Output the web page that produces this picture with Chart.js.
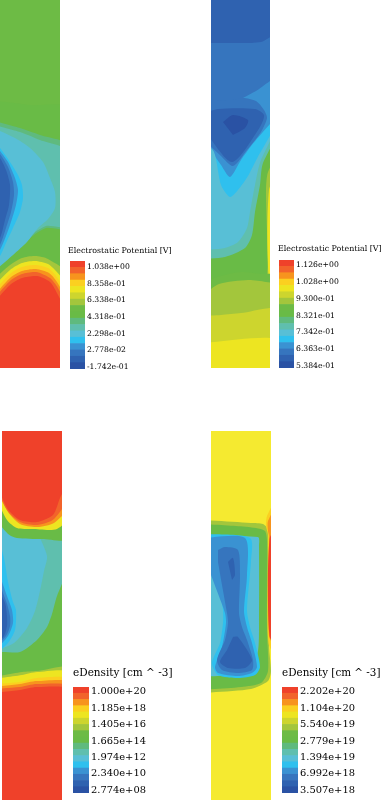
<!DOCTYPE html>
<html>
<head>
<meta charset="utf-8">
<title>Device contours</title>
<script src="https://cdn.jsdelivr.net/npm/chart.js@4/dist/chart.umd.min.js"></script>
<style>
  html, body { margin: 0; padding: 0; background: #fff; width: 386px; height: 800px; overflow: hidden; }
  canvas { position: absolute; }
  .field { filter: blur(0.6px); }
  .key { filter: blur(0.3px); }
</style>
</head>
<body>
<canvas id="fieldA" class="field"></canvas>
<canvas id="fieldB" class="field"></canvas>
<canvas id="fieldC" class="field"></canvas>
<canvas id="fieldD" class="field"></canvas>
<canvas id="keyA" class="key"></canvas>
<canvas id="keyB" class="key"></canvas>
<canvas id="keyC" class="key"></canvas>
<canvas id="keyD" class="key"></canvas>
<script>
// contour band colours, lowest to highest
var bandColors = ['#2A52A4', '#2F62B0', '#3675BE', '#3A92D2', '#2FC0EE', '#58BFD6', '#5FBFAE', '#5FBA7E',
    '#69BB46', '#6DBB45', '#A3C63C', '#CDD52E', '#EDE521', '#FBD020', '#F7941E', '#F2632B', '#EF412A'];
// the paler yellow of the lower right panel
var paleYellow = 17;
var fieldColors = bandColors.concat(['#F5EA30']);

var potentialTitle = 'Electrostatic Potential [V]';
var densityTitle = 'eDensity [cm ^ -3]';

// tick labels, bottom to top
var ticksA = ['-1.742e-01', '2.778e-02', '2.298e-01', '4.318e-01', '6.338e-01', '8.358e-01', '1.038e+00'];
var ticksB = ['5.384e-01', '6.363e-01', '7.342e-01', '8.321e-01', '9.300e-01', '1.028e+00', '1.126e+00'];
var ticksC = ['2.774e+08', '2.340e+10', '1.974e+12', '1.665e+14', '1.405e+16', '1.185e+18', '1.000e+20'];
var ticksD = ['3.507e+18', '6.992e+18', '1.394e+19', '2.779e+19', '5.540e+19', '1.104e+20', '2.202e+20'];

// contours as [band, [x, y] vertices] in device units, painted in order
var contoursA = [
    [9, [[-9, -9], [69, -9], [69, 380], [-9, 380]]],
    [8, [[-9, 100], [30, 105], [69, 109], [69, 380], [-9, 380]]],
    [7, [[-9, 120], [20, 128], [40, 135], [69, 146], [69, 228], [46, 228], [30, 238], [15, 252], [-9, 270]]],
    [6, [[-9, 124], [20, 132], [40, 140], [69, 152], [69, 226], [46, 226], [30, 236], [15, 250], [-9, 268]]],
    [5, [[-9, 127], [15, 138], [30, 148], [43, 162], [50, 178], [55, 192], [55, 208], [48, 219], [38, 228], [27, 242], [13, 255], [-9, 274]]],
    [4, [[-9, 138], [0, 148], [6, 156], [12, 165], [18, 175], [22, 185], [23, 198], [20, 212], [13, 228], [6, 243], [0, 256], [-9, 266]]],
    [3, [[-9, 141], [0, 151], [8, 162], [15, 178], [18, 190], [16, 205], [10, 225], [0, 250], [-9, 260]]],
    [2, [[-9, 144], [0, 154], [8, 167], [13, 182], [14, 195], [11, 212], [6, 228], [0, 245], [-9, 255]]],
    [1, [[-9, 148], [0, 158], [6, 170], [10, 185], [9, 205], [5, 220], [0, 238], [-9, 248]]],
    [10, [[-9, 282], [10, 265], [22, 258], [35, 256], [48, 259], [69, 276], [69, 380], [-9, 380]]],
    [12, [[-9, 289], [10, 270], [22, 263], [35, 261], [48, 264], [56, 271], [69, 289], [69, 380], [-9, 380]]],
    [13, [[-9, 294], [10, 274], [22, 267], [35, 265], [48, 268], [56, 276], [69, 298], [69, 380], [-9, 380]]],
    [14, [[-9, 299], [10, 278], [22, 271], [36, 269], [49, 273], [57, 282], [69, 306], [69, 380], [-9, 380]]],
    [15, [[-9, 302], [10, 281], [22, 274], [36, 272], [50, 278], [58, 288], [69, 313], [69, 380], [-9, 380]]],
    [16, [[-9, 306], [10, 285], [22, 278], [37, 276], [50, 282], [58, 295], [69, 320], [69, 380], [-9, 380]]]
];

var contoursB = [
    [1, [[-9, -9], [69, -9], [69, 380], [-9, 380]]],
    [2, [[-9, 43], [30, 43], [50, 42], [69, 34], [69, 380], [-9, 380]]],
    [3, [[32, 98], [45, 91], [69, 78], [69, 380], [-9, 380], [-9, 130], [0, 132], [10, 120]]],
    [2, [[-9, 100], [20, 100], [32, 98], [45, 101], [53, 110], [56, 118], [50, 132], [36, 150], [22, 166], [10, 156], [-9, 138]]],
    [1, [[-9, 114], [7, 109], [44, 109], [53, 115], [49, 127], [21, 162], [-9, 127]]],
    [0, [[12, 122], [22, 115], [37, 120], [34, 128], [22, 135]]],
    [4, [[-9, 138], [10, 165], [19, 177], [30, 160], [45, 140], [69, 118], [69, 380], [-9, 380]]],
    [5, [[-9, 140], [3, 152], [10, 185], [19, 197], [27, 190], [37, 176], [49, 153], [69, 124], [69, 380], [-9, 380]]],
    [6, [[-9, 250], [14, 248], [27, 242], [36, 228], [39, 212], [44, 185], [50, 160], [69, 128], [69, 380], [-9, 380]]],
    [8, [[-9, 259], [14, 257], [34, 248], [41, 235], [44, 212], [49, 185], [52, 163], [69, 136], [69, 380], [-9, 380]]],
    [10, [[69, 150], [57, 172], [55, 190], [56, 230], [57, 260], [57, 280], [69, 290]]],
    [12, [[69, 170], [58, 190], [58, 280], [69, 290]]],
    [9, [[-9, 282], [10, 276], [30, 272], [50, 274], [69, 276], [69, 380], [-9, 380]]],
    [10, [[-9, 296], [8, 284], [37, 280], [55, 282], [69, 286], [69, 380], [-9, 380]]],
    [11, [[-9, 316], [10, 315], [30, 313], [69, 310], [69, 380], [-9, 380]]],
    [12, [[-9, 343], [69, 340], [69, 380], [-9, 380]]]
];

var contoursC = [
    [5, [[-9, -9], [69, -9], [69, 380], [-9, 380]]],
    [6, [[35, 100], [45, 125], [42, 140], [38, 160], [33, 180], [25, 197], [12, 212], [-9, 224], [-9, 380], [69, 380], [69, 100]]],
    [4, [[-9, 90], [2, 127], [6, 151], [11, 171], [14, 179], [13, 199], [6, 212], [-9, 226]]],
    [3, [[-9, 125], [5, 165], [10, 179], [11, 192], [6, 205], [-9, 222]]],
    [2, [[-9, 137], [4, 170], [8, 185], [8, 195], [4, 205], [-9, 218]]],
    [1, [[-9, 150], [3, 172], [5, 185], [5, 195], [2, 205], [-9, 216]]],
    [8, [[69, 132], [55, 165], [50, 183], [45, 196], [35, 209], [18, 221], [-9, 224], [-9, 380], [69, 380]]],
    [8, [[-9, -9], [69, -9], [69, 107], [40, 108], [15, 107], [6, 103], [-9, 85]]],
    [10, [[-9, 246], [20, 241], [35, 240], [69, 238], [69, 380], [-9, 380]]],
    [12, [[-9, 248], [20, 244], [35, 241], [69, 243], [69, 380], [-9, 380]]],
    [13, [[-9, 253], [18, 251], [35, 247], [69, 250], [69, 380], [-9, 380]]],
    [14, [[-9, 256], [18, 253], [35, 250], [69, 253], [69, 380], [-9, 380]]],
    [15, [[-9, 258], [18, 256], [35, 253], [69, 257], [69, 380], [-9, 380]]],
    [16, [[-9, 262], [18, 259], [35, 256], [69, 260], [69, 380], [-9, 380]]],
    [12, [[-9, 60], [5, 89], [15, 97], [30, 98], [55, 98], [69, 82], [69, -9], [-9, -9]]],
    [14, [[-9, 52], [6, 81], [18, 93], [35, 96], [52, 92], [69, 72], [69, -9], [-9, -9]]],
    [15, [[-9, 48], [5, 79], [18, 91], [35, 94], [52, 88], [69, 60], [69, -9], [-9, -9]]],
    [16, [[-9, 44], [5, 77], [18, 89], [35, 91], [51, 84], [58, 67], [69, 44], [69, -9], [-9, -9]]]
];

var contoursD = [
    [paleYellow, [[-9, -9], [69, -9], [69, 380], [-9, 380]]],
    [10, [[-9, 89], [40, 92], [52, 93], [58, 100], [58, 215], [60, 240], [57, 250], [40, 258], [-9, 262]]],
    [8, [[-9, 93], [25, 95], [45, 97], [54, 100], [56, 110], [56, 200], [57, 240], [50, 252], [30, 256], [-9, 259]]],
    [5, [[-9, 106], [47, 106], [48, 115], [48, 190], [47, 220], [40, 236], [25, 243], [-9, 246]]],
    [4, [[-9, 103], [39, 107], [40, 130], [36, 179], [39, 196], [44, 212], [49, 236], [44, 244], [27, 247], [7, 244], [1, 232], [9, 212], [12, 192], [12, 179], [9, 160], [4, 140], [-9, 110]]],
    [3, [[-9, 107], [34, 107], [36, 144], [33, 180], [36, 196], [41, 212], [46, 236], [41, 242], [27, 245], [7, 242], [4, 236], [11, 216], [15, 192], [14, 182], [6, 160], [-9, 120]]],
    [2, [[7, 119], [14, 116], [27, 119], [29, 144], [28, 182], [31, 196], [36, 209], [42, 229], [41, 239], [27, 242], [11, 239], [6, 229], [14, 209], [17, 192], [16, 182], [11, 154], [7, 131]]],
    [1, [[17, 131], [22, 127], [24, 144], [21, 149]]],
    [1, [[22, 206], [27, 206], [41, 229], [34, 237], [17, 237], [9, 231], [16, 219]]],
    [13, [[69, 60], [56, 85], [55, 95], [57, 104], [57.5, 212], [69, 232]]],
    [14, [[69, 68], [57, 90], [57, 100], [58, 105], [58, 205], [69, 222]]],
    [16, [[69, 92], [58.5, 108], [58.5, 205], [69, 220]]]
];

var drawField = function (id, contours, left, top, width, height) {
    var canvas = document.getElementById(id),
        datasets = contours.map(function (contour) {
            return {
                data: contour[1],
                fill: 'shape',
                backgroundColor: fieldColors[contour[0]],
                borderWidth: 0,
                pointRadius: 0,
                tension: 0.25
            };
        });

    canvas.width = width;
    canvas.height = height;
    canvas.style.left = left + 'px';
    canvas.style.top = top + 'px';

    // datasets are drawn last to first, so flip the paint order
    datasets.reverse();

    return new Chart(canvas.getContext('2d'), {
        type: 'line',
        data: { datasets: datasets },
        options: {
            responsive: false,
            animation: false,
            events: [],
            layout: { padding: 0 },
            plugins: { legend: { display: false }, tooltip: { enabled: false } },
            scales: {
                x: { type: 'linear', display: false, min: 0, max: width },
                y: { type: 'linear', display: false, reverse: true, min: 0, max: height }
            }
        }
    });
};

var drawKey = function (id, opts) {
    var canvas = document.getElementById(id),
        labels = opts.ticks,
        datasets = bandColors.map(function (color) {
            return { data: [1], backgroundColor: color, yAxisID: 'y', barPercentage: 1, categoryPercentage: 1, borderWidth: 0 };
        });

    canvas.width = opts.gap + opts.barWidth + opts.labelWidth;
    canvas.height = opts.titleSpace + opts.barHeight + 8;
    canvas.style.left = opts.left + 'px';
    canvas.style.top = opts.top + 'px';

    return new Chart(canvas.getContext('2d'), {
        type: 'bar',
        data: { labels: ['band'], datasets: datasets },
        options: {
            responsive: false,
            animation: false,
            events: [],
            layout: { padding: { top: 0, bottom: 8, left: 0, right: 0 } },
            plugins: {
                legend: { display: false },
                tooltip: { enabled: false },
                title: {
                    display: true,
                    text: opts.title,
                    align: 'start',
                    color: '#000',
                    font: { family: 'DejaVu Serif', size: opts.titleSize, weight: 'normal', lineHeight: 1 },
                    padding: { top: 0, bottom: opts.titleSpace - opts.titleSize }
                }
            },
            scales: {
                x: { stacked: true, display: false },
                y: {
                    stacked: true,
                    position: 'left',
                    min: 0,
                    max: bandColors.length,
                    grid: { display: false },
                    border: { display: false },
                    ticks: { display: false },
                    afterFit: function (scale) { scale.width = opts.gap; }
                },
                labels: {
                    type: 'linear',
                    position: 'right',
                    min: opts.range[0],
                    max: opts.range[1],
                    grid: { display: false, drawTicks: false },
                    border: { display: false },
                    ticks: {
                        autoSkip: false,
                        color: '#000',
                        padding: 2,
                        font: { family: 'DejaVu Serif', size: opts.tickSize },
                        callback: function (value) { return labels[value]; }
                    },
                    afterBuildTicks: function (scale) {
                        scale.ticks = labels.map(function (label, i) { return { value: i }; });
                    },
                    afterFit: function (scale) { scale.width = opts.labelWidth; }
                }
            }
        }
    });
};

drawField('fieldA', contoursA, 0, 0, 60, 368);
drawField('fieldB', contoursB, 211, 0, 59, 368);
drawField('fieldC', contoursC, 2, 431, 60, 369);
drawField('fieldD', contoursD, 211, 431, 60, 369);

drawKey('keyA', { title: potentialTitle, ticks: ticksA, left: 68, top: 247, gap: 2, barWidth: 15, labelWidth: 100, titleSpace: 14, titleSize: 7.9, tickSize: 7.7, barHeight: 108, range: [-0.12, 6.36] });
drawKey('keyB', { title: potentialTitle, ticks: ticksB, left: 278, top: 245, gap: 1, barWidth: 15, labelWidth: 92, titleSpace: 15, titleSize: 7.9, tickSize: 7.7, barHeight: 108, range: [-0.12, 6.3] });
drawKey('keyC', { title: densityTitle, ticks: ticksC, left: 73, top: 668, gap: 0, barWidth: 16, labelWidth: 90, titleSpace: 19, titleSize: 10.5, tickSize: 9.9, barHeight: 106, range: [-0.18, 6.3] });
drawKey('keyD', { title: densityTitle, ticks: ticksD, left: 282, top: 668, gap: 0, barWidth: 16, labelWidth: 88, titleSpace: 19, titleSize: 10.4, tickSize: 9.9, barHeight: 106, range: [-0.18, 6.3] });
</script>
</body>
</html>
